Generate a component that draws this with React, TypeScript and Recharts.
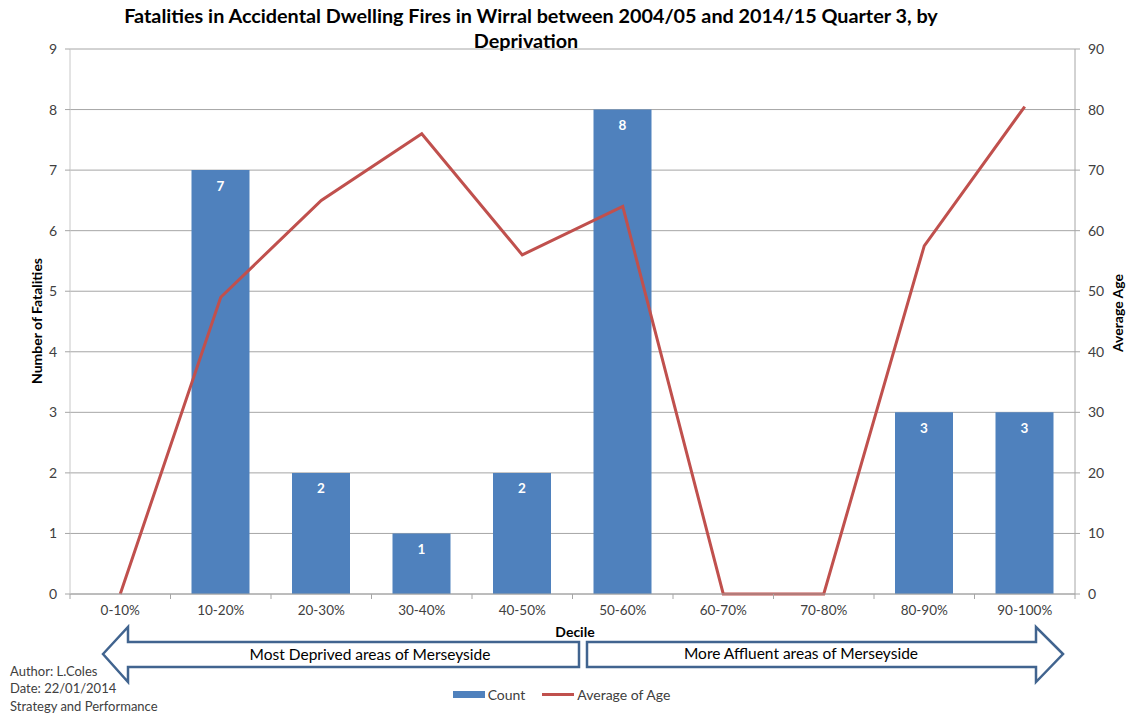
import React from "react"
import {
  Bar,
  CartesianGrid,
  ComposedChart,
  LabelList,
  Legend,
  Line,
  XAxis,
  YAxis,
} from "recharts"

const deciles = ["0-10%", "10-20%", "20-30%", "30-40%", "40-50%", "50-60%", "60-70%", "70-80%", "80-90%", "90-100%"]
const counts = [0, 7, 2, 1, 2, 8, 0, 0, 3, 3]
const avgAge = [0, 49, 65, 76, 56, 64, 0, 0, 57.5, 80.5]
const countTicks = [0, 1, 2, 3, 4, 5, 6, 7, 8, 9]
const ageTicks = [0, 10, 20, 30, 40, 50, 60, 70, 80, 90]

const data = deciles.map((d, i) => ({ decile: d, count: counts[i], age: avgAge[i] }))

const FONT = "Lato, 'Open Sans', sans-serif"
const W = 1128
const H = 717
const PLOT_LEFT = 70
const PLOT_RIGHT = 1075
const BAND = (PLOT_RIGHT - PLOT_LEFT) / deciles.length

const DecileTick = (props: any) => {
  const { x, y, payload, index } = props
  return (
    <g>
      <line x1={x - BAND / 2} y1={y - 8} x2={x - BAND / 2} y2={y - 3} stroke="#a6a6a6" />
      {index === deciles.length - 1 && (
        <line x1={x + BAND / 2} y1={y - 8} x2={x + BAND / 2} y2={y - 3} stroke="#a6a6a6" />
      )}
      <text x={x} y={y + 13} textAnchor="middle" fill="#404040" fontSize={13.5} fontFamily={FONT}>
        {payload.value}
      </text>
    </g>
  )
}

const LegendContent = (props: any) => {
  const items = [...(props.payload || [])].sort((a: any, b: any) => (a.type === "rect" ? -1 : b.type === "rect" ? 1 : 0))
  return (
    <div style={{ display: "flex", justifyContent: "center", fontFamily: FONT, fontSize: 14, color: "#404040", paddingLeft: 12 }}>
      {items.map((p: any) => (
        <div key={p.value} style={{ display: "flex", alignItems: "center", marginRight: 17 }}>
          {p.type === "rect" ? (
            <span style={{ display: "inline-block", width: 32, height: 7, background: p.color, marginRight: 3 }} />
          ) : (
            <span style={{ display: "inline-block", width: 32, height: 3, background: p.color, marginRight: 3 }} />
          )}
          <span>{p.value}</span>
        </div>
      ))}
    </div>
  )
}

const arrowStroke = "#41648f"

export default function App() {
  return (
    <div style={{ position: "absolute", left: 0, top: 0, width: W, height: H, background: "#fff" }}>
      <ComposedChart
        width={W}
        height={H}
        data={data}
        margin={{ top: 49, right: 13, left: 30, bottom: 75 }}
      >
        <CartesianGrid vertical={false} stroke="#a6a6a6" yAxisId="left" />
        <XAxis
          dataKey="decile"
          tick={<DecileTick />}
          tickLine={false}
          stroke="#a6a6a6"
          height={30}
          interval={0}
        />
        <YAxis
          yAxisId="left"
          domain={[0, 9]}
          ticks={countTicks}
          width={40}
          stroke="#c8c8c8"
          tickLine={{ stroke: "#a6a6a6" }}
          tickSize={5}
          tickMargin={8}
          tick={{ fill: "#404040", fontSize: 14, fontFamily: FONT }}
        />
        <YAxis
          yAxisId="right"
          orientation="right"
          domain={[0, 90]}
          ticks={ageTicks}
          width={40}
          stroke="#a6a6a6"
          tickLine={{ stroke: "#a6a6a6" }}
          tickSize={5}
          tickMargin={8}
          tick={{ fill: "#404040", fontSize: 14, fontFamily: FONT, textAnchor: "start" }}
        />
        <Bar yAxisId="left" dataKey="count" name="Count" fill="#4f81bd" barSize={58} isAnimationActive={false} legendType="rect">
          <LabelList
            dataKey="count"
            position="insideTop"
            offset={11}
            fill="#ffffff"
            fontWeight="bold"
            fontSize={13.5}
            fontFamily={FONT}
            formatter={(v: any) => (v ? v : "")}
          />
        </Bar>
        <Line
          yAxisId="right"
          type="linear"
          dataKey="age"
          name="Average of Age"
          stroke="#c0504d"
          strokeWidth={3}
          dot={false}
          activeDot={false}
          isAnimationActive={false}
          legendType="line"
        />
        <Legend
          content={<LegendContent />}
          wrapperStyle={{ position: "absolute", top: 686, left: 0, width: W, height: 18 }}
        />
      </ComposedChart>

      <svg width={W} height={H} style={{ position: "absolute", left: 0, top: 0, pointerEvents: "none" }}>
        <g fontFamily={FONT} fill="#000">
          <text x={531} y={23} textAnchor="middle" fontSize={19.8} fontWeight="bold">
            Fatalities in Accidental Dwelling Fires in Wirral between 2004/05 and 2014/15 Quarter 3, by
          </text>
          <text x={526} y={48} textAnchor="middle" fontSize={19.8} fontWeight="bold">
            Deprivation
          </text>
          <text
            x={0}
            y={0}
            transform="translate(42, 321) rotate(-90)"
            textAnchor="middle"
            fontSize={14}
            fontWeight="bold"
          >
            Number of Fatalities
          </text>
          <text
            x={0}
            y={0}
            transform="translate(1123, 313) rotate(-90)"
            textAnchor="middle"
            fontSize={14}
            fontWeight="bold"
          >
            Average Age
          </text>
          <text x={575} y={637} textAnchor="middle" fontSize={14} fontWeight="bold">
            Decile
          </text>
        </g>

        <path
          d="M103,654 L128,627 L128,642 L579,642 L579,667 L128,667 L128,682 Z"
          fill="#fff"
          stroke={arrowStroke}
          strokeWidth={2.5}
          strokeLinejoin="miter"
        />
        <path
          d="M1063,654 L1036,627 L1036,642 L587,642 L587,667 L1036,667 L1036,682 Z"
          fill="#fff"
          stroke={arrowStroke}
          strokeWidth={2.5}
          strokeLinejoin="miter"
        />
        <g fontFamily={FONT} fill="#000" fontSize={15.5}>
          <text x={370} y={660} textAnchor="middle">Most Deprived areas of Merseyside</text>
          <text x={801} y={659} textAnchor="middle">More Affluent areas of Merseyside</text>
        </g>

        <g fontFamily={FONT} fill="#404040" fontSize={13}>
          <text x={10} y={676}>Author: L.Coles</text>
          <text x={10} y={693}>Date: 22/01/2014</text>
          <text x={10} y={711}>Strategy and Performance</text>
        </g>
      </svg>
    </div>
  )
}
